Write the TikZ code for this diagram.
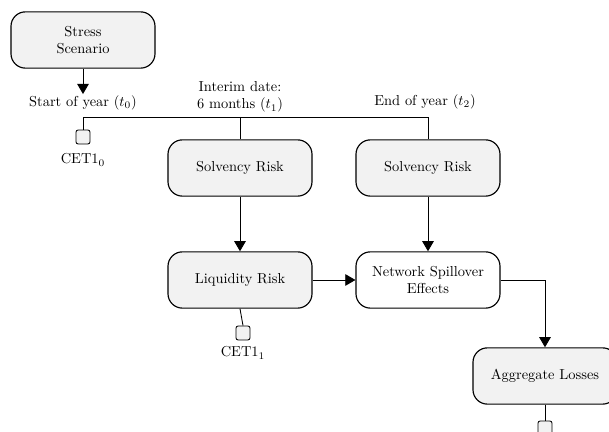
\documentclass[tikz,border=0pt]{standalone}
\usepackage{amsmath}
\usetikzlibrary{arrows.meta}

\begin{document}
\begin{tikzpicture}[x=0.693pt,y=-0.693pt,
    riskbox/.style={draw,thick,rounded corners=10pt,fill=gray!10,minimum width=99.8pt,minimum height=39pt,align=center},
    capbox/.style={draw,semithick,rounded corners=1.5pt,fill=gray!10,minimum size=9.7pt,inner sep=0pt},
    datelabel/.style={inner sep=1pt,align=center},
    link/.style={semithick},
    flow/.style={semithick,-{Triangle[length=7pt,width=8pt]}}]
      \useasboundingbox (0,0) rectangle (609,432);
      % boxes
      \node[riskbox] (stress) at (83,40) {Stress\\Scenario};
      \node[riskbox] (solv1) at (240,168) {Solvency Risk};
      \node[riskbox] (solv2) at (428,168) {Solvency Risk};
      \node[riskbox] (liq) at (240,280) {Liquidity Risk};
      \node[riskbox,fill=white] (net) at (428,280) {Network Spillover\\Effects};
      \node[riskbox] (agg) at (545,376) {Aggregate Losses};
      % dates
      \node[datelabel] (start) at (83,103) {Start of year ($t_0$)};
      \node[datelabel] (interim) at (240,97) {Interim date:\\6 months ($t_1$)};
      \node[datelabel] (end) at (425,102) {End of year ($t_2$)};
      \coordinate (t0) at (83,117);
      \coordinate (t1) at (240,117);
      \coordinate (t2) at (428,117);
      % capital
      \node[capbox] (cap0) at (83,137) {};
      \node (cet0) at (83,160) {CET1$_0$};
      \node[capbox] (cap1) at (243,333) {};
      \node (cet1) at (243,353) {CET1$_1$};
      \node[capbox] (cap2) at (545,428) {};
      % connectors
      \draw[flow] (stress) -- (start);
      \draw[link] (cap0.north) -- (t0) -- (t2) -- (solv2.north);
      \draw[link] (t1) -- (solv1.north);
      \draw[flow] (solv1) -- (liq);
      \draw[flow] (solv2) -- (net);
      \draw[flow] (liq) -- (net);
      \draw[flow] (net.east) -| (agg.north);
      \draw[link] (liq.south) -- (cap1.north);
      \draw[link] (agg.south) -- (cap2.north);
\end{tikzpicture}
\end{document}
